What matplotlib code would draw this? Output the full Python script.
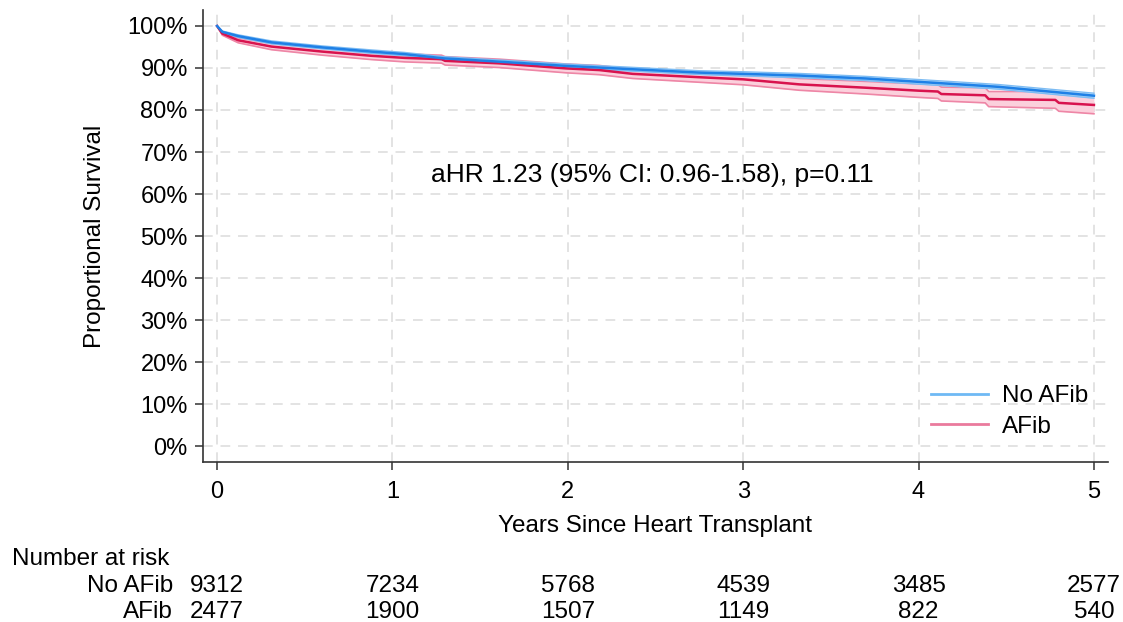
import matplotlib
matplotlib.use("Agg")
import matplotlib.pyplot as plt
from matplotlib.transforms import blended_transform_factory
from matplotlib.ticker import PercentFormatter

plt.rcParams['font.family'] = ['Liberation Sans', 'DejaVu Sans']

# survival curves (percent)
years_noafib = [0, 0.03, 0.12, 0.31, 0.60, 0.88, 1.07, 1.29, 1.61, 1.99, 2.37, 2.75,
                3.0, 3.32, 3.70, 4.0, 4.35, 4.46, 5.0]
surv_noafib = [100, 98.6, 97.6, 96.1, 94.9, 93.9, 93.3, 92.3, 91.5, 90.5, 89.7, 88.9,
               88.6, 88.2, 87.5, 86.7, 85.8, 85.5, 83.4]
lo_noafib = [100, 98.4, 97.3, 95.75, 94.55, 93.5, 92.9, 91.9, 91.1, 90.05, 89.25, 88.45,
             88.1, 87.7, 87.0, 86.15, 85.25, 84.95, 82.8]
hi_noafib = [100, 98.8, 97.9, 96.45, 95.25, 94.3, 93.7, 92.7, 91.9, 90.95, 90.15, 89.35,
             89.1, 88.7, 88.0, 87.25, 86.35, 86.05, 84.0]

years_afib = [0, 0.03, 0.12, 0.31, 0.60, 0.88, 1.07, 1.28, 1.30, 1.61, 1.99, 2.18, 2.37,
              2.75, 3.0, 3.32, 3.70, 4.0, 4.11, 4.13, 4.38, 4.40, 4.78, 4.80, 5.0]
surv_afib = [100, 98.2, 96.6, 95.1, 93.9, 92.9, 92.4, 92.1, 91.7, 91.1, 89.9, 89.5, 88.6,
             87.8, 87.3, 86.1, 85.3, 84.6, 84.4, 83.8, 83.5, 82.6, 82.4, 81.7, 81.2]
lo_afib = [100, 97.8, 96.0, 94.35, 93.05, 92.0, 91.45, 91.15, 90.7, 90.1, 88.85, 88.4, 87.5,
           86.6, 86.0, 84.7, 83.8, 83.0, 82.75, 82.15, 81.7, 80.8, 80.4, 79.7, 79.1]
hi_afib = [100, 98.6, 97.2, 95.85, 94.75, 93.8, 93.35, 93.05, 92.7, 92.1, 90.95, 90.6, 89.7,
           89.0, 88.6, 87.5, 86.8, 86.2, 86.05, 85.45, 85.3, 84.4, 84.4, 83.7, 83.3]

risk_years = [0, 1, 2, 3, 4, 5]
risk_noafib = [9312, 7234, 5768, 4539, 3485, 2577]
risk_afib = [2477, 1900, 1507, 1149, 822, 540]

fs = 17.5

fig = plt.figure(figsize=(11.23, 6.22), dpi=100)
ax = fig.add_axes([0.1808, 0.2572, 0.8058, 0.7267])

# confidence bands
ax.fill_between(years_afib, lo_afib, hi_afib, color='#fbd0dc', lw=0, zorder=2)
ax.plot(years_afib, lo_afib, color='#ee86a6', lw=1.2, zorder=2)
ax.plot(years_afib, hi_afib, color='#ee86a6', lw=1.2, zorder=2)
ax.fill_between(years_noafib, lo_noafib, hi_noafib, color='#a6d4fa', lw=0, zorder=3)
ax.plot(years_noafib, lo_noafib, color='#7dbcf3', lw=1.0, zorder=3)
ax.plot(years_noafib, hi_noafib, color='#7dbcf3', lw=1.0, zorder=3)

ax.plot(years_afib, surv_afib, color='#d8134e', lw=1.8, zorder=4)
ax.plot(years_noafib, surv_noafib, color='#1f80e6', lw=1.8, zorder=5)

# legend uses the lighter colours
h1, = ax.plot([], [], color='#6fb9f4', lw=2, label='No AFib')
h2, = ax.plot([], [], color='#ea7a9d', lw=2, label='AFib')
ax.legend(handles=[h1, h2], loc='upper left', bbox_to_anchor=(0.804, 0.17),
          frameon=False, fontsize=fs, handlelength=2.35, handletextpad=0.6,
          labelspacing=0.36, borderpad=0, borderaxespad=0)

ax.text(2.48, 64.5, 'aHR 1.23 (95% CI: 0.96-1.58), p=0.11', ha='center', va='center',
        fontsize=19)

ax.set_xlim(-0.08, 5.08)
ax.set_ylim(-3.8, 103.8)
ax.set_xticks(risk_years)
ax.set_yticks(range(0, 101, 10))
ax.yaxis.set_major_formatter(PercentFormatter(decimals=0))
ax.grid(True, color='#e3e3e3', linestyle=(0, (5, 4)), lw=1.4)
ax.set_axisbelow(True)
for s in ['top', 'right']:
    ax.spines[s].set_visible(False)
for s in ['left', 'bottom']:
    ax.spines[s].set_color('#333333')
    ax.spines[s].set_linewidth(1.2)
ax.tick_params(axis='both', direction='out', length=6, width=1.1, color='#333333',
               labelsize=17)
ax.tick_params(axis='y', pad=5)
ax.tick_params(axis='x', pad=8)
ax.set_xlabel('Years Since Heart Transplant', fontsize=fs, labelpad=8)
ax.set_ylabel('Proportional Survival', fontsize=fs, labelpad=15)

# number at risk table
tr = blended_transform_factory(ax.transData, fig.transFigure)
fig.text(0.0107, 0.102, 'Number at risk', fontsize=fs, ha='left', va='center')
fig.text(0.154, 0.058, 'No AFib', fontsize=fs, ha='right', va='center')
fig.text(0.154, 0.0165, 'AFib', fontsize=fs, ha='right', va='center')
for i in range(len(risk_years)):
    ax.text(risk_years[i], 0.058, str(risk_noafib[i]), transform=tr, fontsize=fs,
            ha='center', va='center')
    ax.text(risk_years[i], 0.0165, str(risk_afib[i]), transform=tr, fontsize=fs,
            ha='center', va='center')

fig.savefig('out.png', dpi=100)
